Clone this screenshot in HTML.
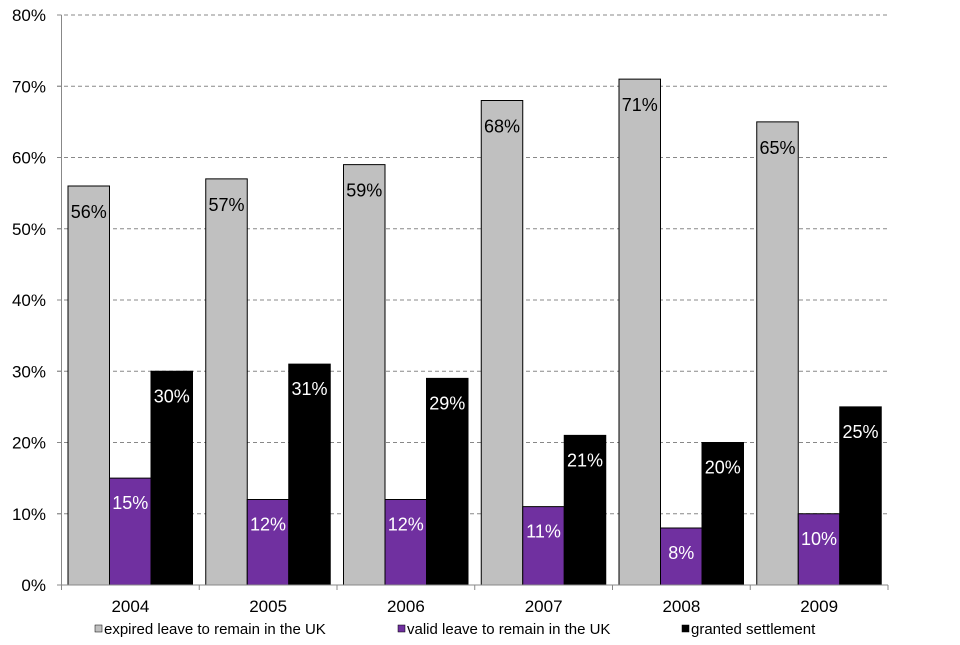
<!DOCTYPE html>
<html><head><meta charset="utf-8"><style>
body{margin:0;background:#fff;}
svg text{font-family:"Liberation Sans",sans-serif;}
</style></head><body>
<svg id="chart" width="960" height="640" xmlns="http://www.w3.org/2000/svg"></svg>
<script>
const categories=["2004","2005","2006","2007","2008","2009"];
const expiredValues=[56,57,59,68,71,65];
const validValues=[15,12,12,11,8,10];
const settledValues=[30,31,29,21,20,25];
const yTicks=[0,10,20,30,40,50,60,70,80];
const seriesNames=["expired leave to remain in the UK","valid leave to remain in the UK","granted settlement"];

const svg=document.getElementById('chart');
const NS="http://www.w3.org/2000/svg";
const x0=61.5,x1=888,yBase=585,yTop=15;
const y=v=>yBase-(v/80)*(yBase-yTop);
const catW=(x1-x0)/categories.length;
const bw=41.5,off=6.5;
function mk(t,a,p){const e=document.createElementNS(NS,t);for(const k in a)e.setAttribute(k,a[k]);(p||svg).appendChild(e);return e;}

yTicks.forEach(v=>{
  if(v>0){const g=mk('line',{x1:57,x2:x1,y1:y(v),y2:y(v),stroke:'#888','stroke-dasharray':'4,3','stroke-width':1});
  
  }
  const tk=mk('line',{x1:57,x2:x0,y1:y(v),y2:y(v),stroke:'#888'});
  
  
  const t=mk('text',{x:46,y:y(v)+6,'text-anchor':'end','font-size':17,fill:'#000'});
  t.textContent=v+'%';
  
  
});

const series=[
 {vals:expiredValues,fill:'#c0c0c0',label:'#000',name:'expired'},
 {vals:validValues,fill:'#7030a0',label:'#fff',name:'valid'},
 {vals:settledValues,fill:'#000',label:'#fff',name:'settled'}];
categories.forEach((c,i)=>{
  const cx=x0+i*catW;
  series.forEach((s,j)=>{
    const v=s.vals[i];const bx=cx+off+j*bw;
    const r=mk('rect',{x:bx,y:y(v),width:bw,height:yBase-y(v),fill:s.fill,stroke:'#000','stroke-width':1});
    
    
    const t=mk('text',{x:bx+bw/2,y:y(v)+ (j==0?32:31),'text-anchor':'middle','font-size':18,fill:s.label});
    t.textContent=v+'%';
    
    
  });
  const xt=mk('text',{x:cx+catW/2,y:612,'text-anchor':'middle','font-size':17,fill:'#000'});
  xt.textContent=c;
  
  
});
for(let i=0;i<=categories.length;i++){
  const l=mk('line',{x1:x0+i*catW,x2:x0+i*catW,y1:yBase,y2:yBase+5,stroke:'#888'});
  
  
}
const ax=mk('line',{x1:x0,x2:x0,y1:yTop,y2:yBase,stroke:'#888'});


const bx=mk('line',{x1:x0,x2:x1,y1:yBase,y2:yBase,stroke:'#888'});



const legX=[95,398,682];const legF=['#c0c0c0','#7030a0','#000'];
seriesNames.forEach((n,i)=>{
  const g=mk('g',{});
  
  
  mk('rect',{x:legX[i],y:625,width:7,height:7,fill:legF[i],stroke:'#000','stroke-width':0.5},g);
  const t=mk('text',{x:legX[i]+9,y:634,'font-size':15,fill:'#000'},g);
  t.textContent=n;
});
</script>
</body></html>
